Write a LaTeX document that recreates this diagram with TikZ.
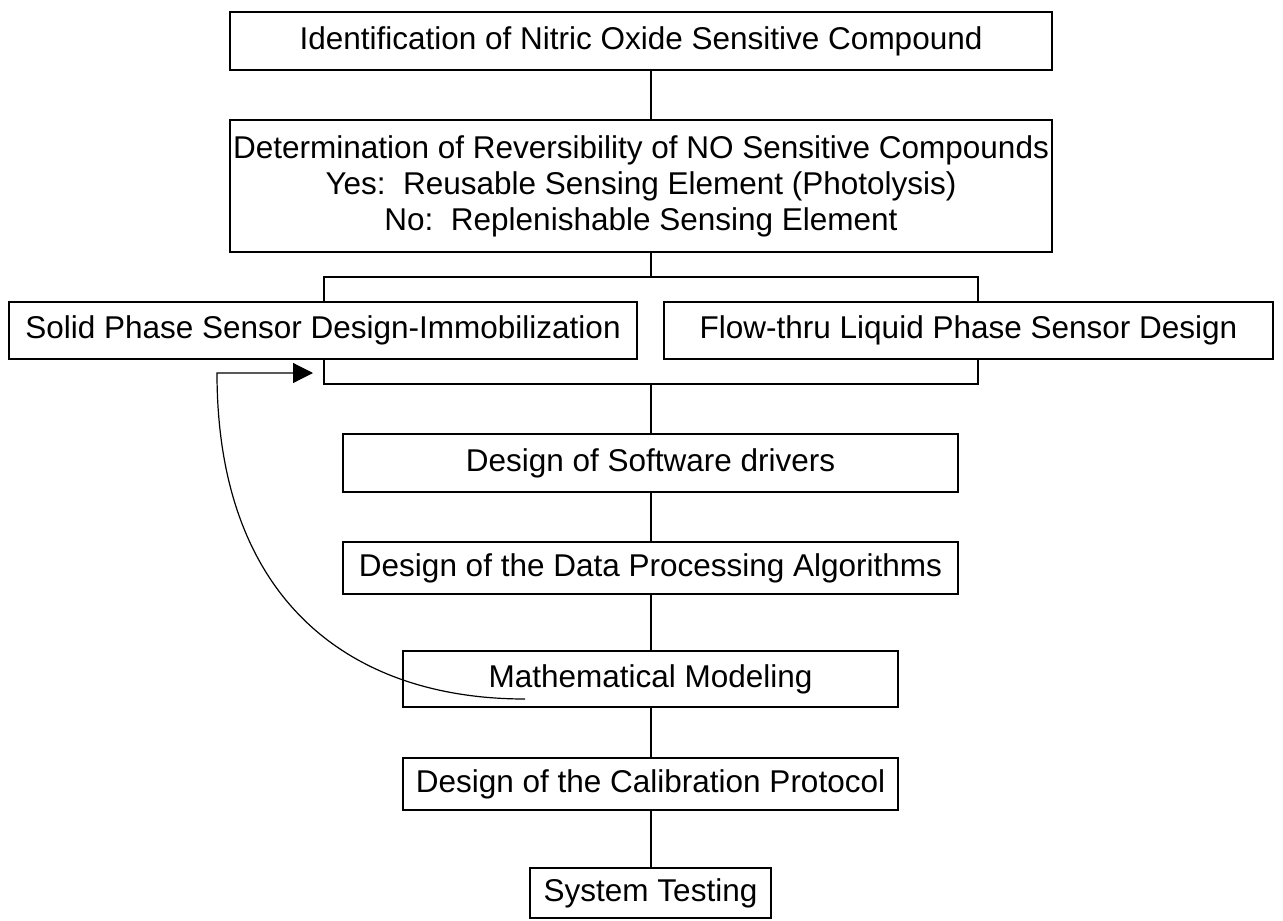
\documentclass[tikz,border=0pt]{standalone}
\usepackage{fontspec}
\setmainfont{Liberation Sans}
\usetikzlibrary{arrows.meta}
\begin{document}
\begin{tikzpicture}[x=1pt,y=-1pt,
  box/.style={draw, line width=1.8pt, inner sep=0pt, align=center,
    font=\fontsize{31.5}{36}\selectfont},
  conn/.style={line width=1.8pt},
  fb/.style={line width=1.2pt, -{Triangle[length=20pt,width=20pt]}}]
\useasboundingbox (0,0) rectangle (1283,921);
\node[box, minimum width=822pt, minimum height=58pt] (n1) at (641,41) {Identification of Nitric Oxide Sensitive Compound};
\node[box, minimum width=822pt, minimum height=132pt] (n2) at (641,186) {Determination of Reversibility of NO Sensitive Compounds\\Yes:\ \ Reusable Sensing Element (Photolysis)\\No:\ \ Replenishable Sensing Element};
\node[box, minimum width=628pt, minimum height=57pt] (solid) at (323,330.5) {Solid Phase Sensor Design-Immobilization};
\node[box, minimum width=609pt, minimum height=57pt] (flow) at (968.5,330.5) {Flow-thru Liquid Phase Sensor Design};
\node[box, minimum width=615pt, minimum height=58pt] (soft) at (650.5,463) {Design of Software drivers};
\node[box, minimum width=615pt, minimum height=52pt] (data) at (650.5,568) {Design of the Data Processing Algorithms};
\node[box, minimum width=495pt, minimum height=56pt] (math) at (650.5,679) {Mathematical Modeling};
\node[box, minimum width=495pt, minimum height=52pt] (calib) at (650.5,784) {Design of the Calibration Protocol};
\node[box, minimum width=241pt, minimum height=50pt] (sys) at (650.5,893) {System Testing};
\coordinate (spine) at (651,0);
\coordinate (tl) at (324,277);
\coordinate (tr) at (978,277);
\coordinate (bl) at (324,384);
\coordinate (br) at (978,384);
\coordinate (fend) at (525,699);
\coordinate (fbend) at (217,373);
\coordinate (ftip) at (313,373);
\draw[conn] (n1.south -| spine) -- (n2.north -| spine);
\draw[conn] (n2.south -| spine) -- (tl -| spine);
\draw[conn] (solid.north -| tl) -- (tl) -- (tr) -- (flow.north -| tr);
\draw[conn] (solid.south -| bl) -- (bl) -- (br) -- (flow.south -| br);
\draw[conn] (bl -| spine) -- (soft.north -| spine);
\draw[conn] (soft.south -| spine) -- (data.north -| spine);
\draw[conn] (data.south -| spine) -- (math.north -| spine);
\draw[conn] (math.south -| spine) -- (calib.north -| spine);
\draw[conn] (calib.south -| spine) -- (sys.north -| spine);
\draw[fb] (fend) .. controls (350,699) and (217,600) .. (fbend) -- (ftip);
\end{tikzpicture}
\end{document}
